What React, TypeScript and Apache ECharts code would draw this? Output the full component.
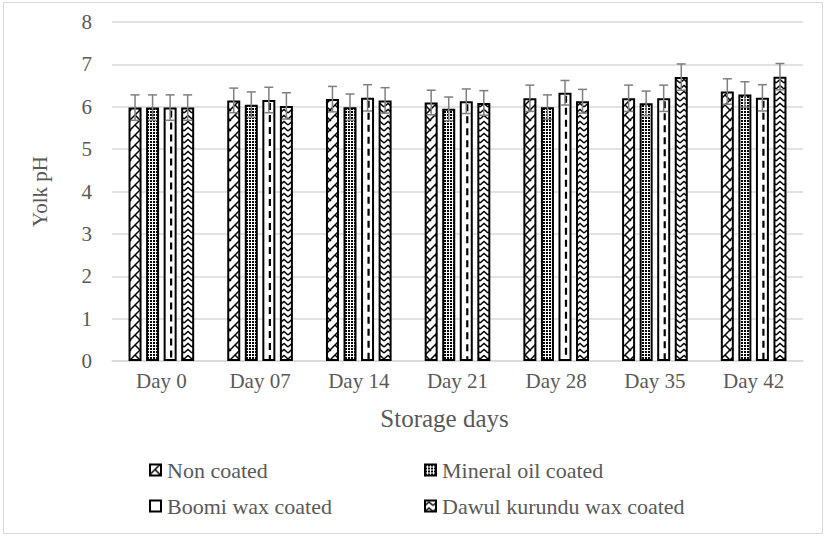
import React, { useEffect, useRef } from "react";
import * as echarts from "echarts";

const categories = ["Day 0", "Day 07", "Day 14", "Day 21", "Day 28", "Day 35", "Day 42"];
const seriesNames = ["Non coated", "Mineral oil coated", "Boomi wax coated", "Dawul kurundu wax coated"];
const nonCoated = [5.98, 6.15, 6.18, 6.1, 6.2, 6.2, 6.36];
const mineralOil = [5.98, 6.05, 5.99, 5.95, 5.99, 6.08, 6.29];
const boomiWax = [5.98, 6.16, 6.21, 6.13, 6.33, 6.2, 6.21];
const dawulWax = [5.98, 6.02, 6.15, 6.09, 6.13, 6.7, 6.71];
const errNon = [0.3, 0.29, 0.3, 0.29, 0.31, 0.31, 0.3];
const errMineral = [0.3, 0.3, 0.31, 0.28, 0.29, 0.29, 0.3];
const errBoomi = [0.3, 0.3, 0.31, 0.29, 0.29, 0.31, 0.31];
const errDawul = [0.3, 0.31, 0.3, 0.29, 0.28, 0.31, 0.31];
const yTicks = [0, 1, 2, 3, 4, 5, 6, 7, 8];

const FONT = "'Liberation Serif', 'Times New Roman', serif";
const TEXT = "#595959";

function makeCanvas(w: number, h: number, draw: (ctx: CanvasRenderingContext2D) => void) {
  const c = document.createElement("canvas");
  c.width = w;
  c.height = h;
  const ctx = c.getContext("2d")!;
  ctx.fillStyle = "#ffffff";
  ctx.fillRect(0, 0, w, h);
  ctx.strokeStyle = "#000000";
  ctx.fillStyle = "#000000";
  draw(ctx);
  return c;
}

function pattern(c: HTMLCanvasElement) {
  return { image: c, repeat: "repeat", imageWidth: c.width, imageHeight: c.height } as any;
}

export default function App() {
  const ref = useRef<HTMLDivElement>(null);
  useEffect(() => {
    if (!ref.current) return;
    const chart = echarts.init(ref.current, null, { renderer: "svg" });

    const pNon = makeCanvas(10, 10, (ctx) => {
      ctx.lineWidth = 1.5;
      ctx.beginPath();
      ctx.moveTo(-1, 11);
      ctx.lineTo(11, -1);
      ctx.moveTo(5, 5);
      ctx.lineTo(11, 11);
      ctx.moveTo(-5, -5);
      ctx.lineTo(1, 1);
      ctx.stroke();
    });
    const pMin = makeCanvas(3, 3, (ctx) => {
      ctx.fillRect(0, 0, 2, 2);
    });
    const pDawul = makeCanvas(8, 6, (ctx) => {
      ctx.lineWidth = 1.5;
      ctx.beginPath();
      ctx.moveTo(0, 5);
      ctx.lineTo(4, 1.5);
      ctx.lineTo(8, 5);
      ctx.stroke();
    });
    const fills = [pattern(pNon), pattern(pMin), "#ffffff", pattern(pDawul)];

    const values = [nonCoated, mineralOil, boomiWax, dawulWax];
    const errs = [errNon, errMineral, errBoomi, errDawul];

    const barWidth = 13;
    const barGapPct = 0.35;
    const spacing = barWidth * (1 + barGapPct);

    const barSeries = seriesNames.map((name, i) => ({
      name,
      type: "bar",
      data: values[i],
      barWidth,
      barGap: barGapPct * 100 + "%",
      itemStyle: { color: fills[i], borderColor: "#000000", borderWidth: 2 },
      z: 2,
    }));

    const errData: number[][] = [];
    values.forEach((arr, s) => arr.forEach((v, c) => errData.push([c, v, errs[s][c], s])));

    const overlay = {
      name: "errors",
      type: "custom",
      data: errData,
      encode: { x: 0, y: 1 },
      z: 5,
      silent: true,
      renderItem: (params: any, api: any) => {
        const c = api.value(0);
        const v = api.value(1);
        const e = api.value(2);
        const s = api.value(3);
        const off = (s - 1.5) * spacing;
        const base = api.coord([c, v]);
        const x = base[0] + off;
        const yTop = api.coord([c, v + e])[1];
        const yBot = api.coord([c, v - e])[1];
        const y0 = api.coord([c, 0])[1];
        const children: any[] = [];
        if (s === 2) {
          children.push({
            type: "line",
            shape: { x1: x + 1, y1: base[1] + 3, x2: x + 1, y2: y0 - 1 },
            style: { stroke: "#000000", lineWidth: 2.2, lineDash: [7, 5] },
          });
        }
        const ec = "#7f7f7f";
        const cap = 4.5;
        children.push(
          { type: "line", shape: { x1: x, y1: yTop, x2: x, y2: yBot }, style: { stroke: ec, lineWidth: 1.5 } },
          { type: "line", shape: { x1: x - cap, y1: yTop, x2: x + cap, y2: yTop }, style: { stroke: ec, lineWidth: 1.5 } },
          { type: "line", shape: { x1: x - cap, y1: yBot, x2: x + cap, y2: yBot }, style: { stroke: ec, lineWidth: 1.5 } }
        );
        return { type: "group", children };
      },
    };

    const legendCommon = {
      orient: "vertical",
      icon: "rect",
      itemWidth: 11,
      itemHeight: 11,
      itemGap: 14,
      textStyle: { fontFamily: FONT, fontSize: 22, color: TEXT, padding: [0, 0, 0, 1] },
      selectedMode: false,
    };

    chart.setOption({
      animation: false,
      backgroundColor: "#ffffff",
      textStyle: { fontFamily: FONT },
      graphic: [
        {
          type: "rect",
          shape: { x: 3.5, y: 2.5, width: 819, height: 531 },
          style: { fill: "none", stroke: "#d9d9d9", lineWidth: 1 },
          silent: true,
          z: -1,
        },
      ],
      grid: { left: 112, right: 24, top: 22, bottom: 176 },
      legend: [
        { ...legendCommon, left: 144, top: 454, data: [seriesNames[0], seriesNames[2]] },
        { ...legendCommon, left: 419, top: 454, data: [seriesNames[1], seriesNames[3]] },
      ],
      xAxis: {
        type: "category",
        data: categories,
        name: "Storage days",
        nameLocation: "middle",
        nameGap: 45,
        nameTextStyle: { fontFamily: FONT, fontSize: 25, color: TEXT, padding: [0, 26, 0, 0] },
        axisLine: { lineStyle: { color: "#d9d9d9", width: 1.5 } },
        axisTick: { show: false },
        axisLabel: { fontFamily: FONT, fontSize: 21, color: TEXT, margin: 9 },
      },
      yAxis: {
        type: "value",
        min: yTicks[0],
        max: yTicks[yTicks.length - 1],
        interval: 1,
        name: "Yolk pH",
        nameLocation: "middle",
        nameGap: 62,
        nameTextStyle: { fontFamily: FONT, fontSize: 21, color: TEXT },
        axisLine: { show: false },
        axisTick: { show: false },
        axisLabel: { fontFamily: FONT, fontSize: 21, color: TEXT, margin: 20 },
        splitLine: { lineStyle: { color: "#d9d9d9", width: 1.5 } },
      },
      series: [...barSeries, overlay],
    } as any);

    return () => chart.dispose();
  }, []);

  return (
    <div
      ref={ref}
      style={{ position: "fixed", left: 0, top: 0, width: 827, height: 537, background: "#fff" }}
    />
  );
}
